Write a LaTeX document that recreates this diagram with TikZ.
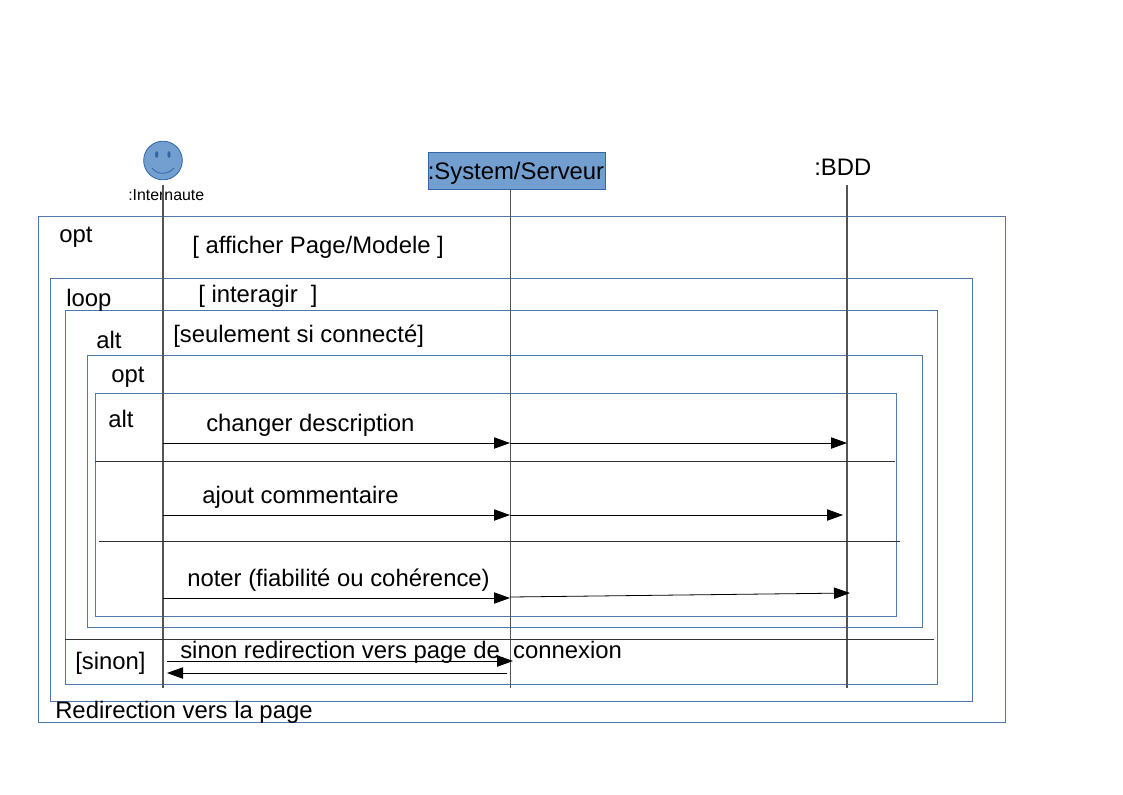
\documentclass[tikz,border=0pt]{standalone}
\usepackage{fontspec}
\setmainfont{Liberation Sans}
\usetikzlibrary{arrows.meta}
\definecolor{framecol}{HTML}{4F78A8}
\definecolor{headcol}{HTML}{729FCF}
\definecolor{headline}{HTML}{3465A4}
\definecolor{lifecol}{HTML}{555555}
\begin{document}
\begin{tikzpicture}[x=0.75pt, y=-0.75pt]
        % Define block styles
        \tikzstyle{frame} = [draw=framecol, line width=0.7pt]
        \tikzstyle{label} = [anchor=base west, inner sep=0pt, font=\fontsize{17.9}{20}\selectfont]
        \tikzstyle{lifeline} = [draw=lifecol, line width=0.9pt]
        \tikzstyle{split} = [draw=black!80, line width=0.7pt]
        \tikzstyle{line} = [draw, line width=0.6pt, -{Triangle[length=12pt, width=8.5pt]}]
        \useasboundingbox (0,0) rectangle (1123,794);

        % Nested frames
        \draw [frame] (38,216) rectangle (1005,722);
        \draw [frame] (50,278) rectangle (972,701);
        \draw [frame] (65,310) rectangle (937,684);
        \draw [frame] (87,355) rectangle (922,627);
        \draw [frame] (95,393) rectangle (896,616);

        % Place nodes
        \node [circle, draw=headline, fill=headcol, line width=0.6pt, minimum size=29pt, inner sep=0pt] (internaute) at (163,160.5) {};
        \node [label, font=\fontsize{11.9}{13}\selectfont] (internautelabel) at (128,200) {:Internaute};
        \node [draw=headline, fill=headcol, line width=0.5pt, minimum width=132.5pt, minimum height=28pt, inner sep=0pt] (serveur) at (516.5,170.5) {};
        \node [label] (serveurlabel) at (427.5,179) {:System/Serveur};
        \node [label] (bdd) at (814,175) {:BDD};

        \fill [headline] (156.7,154.5) ellipse (1.6 and 3.4);
        \fill [headline] (169,154.5) ellipse (1.6 and 3.4);
        \draw [headline, line width=0.6pt] (152,168) .. controls (157,175) and (168,175) .. (174,168);

        \node [label] (opt1) at (59,242) {opt};
        \node [label] (guard1) at (192,253) {[ afficher Page/Modele ]};
        \node [label] (loop) at (66,306) {loop};
        \node [label] (guard2) at (198,302) {[ interagir\ \ ]};
        \node [label] (alt1) at (96,348) {alt};
        \node [label] (guard3) at (173,342) {[seulement si connecté]};
        \node [label] (opt2) at (111,382) {opt};
        \node [label] (alt2) at (108,427) {alt};
        \node [label] (msg1) at (206,431) {changer description};
        \node [label] (msg2) at (202,503) {ajout commentaire};
        \node [label] (msg3) at (187,586) {noter (fiabilité ou cohérence)};
        \node [label] (sinon) at (75,669) {[sinon]};
        \node [label] (msg4) at (180,658) {sinon redirection vers page de\ \ connexion};
        \node [label] (retour) at (55,718) {Redirection vers la page};

        % Lifelines
        \coordinate (internauteend) at (163,688);
        \coordinate (internautetop) at (163,185);
        \coordinate (serveurend) at (510.5,688);
        \coordinate (serveurtop) at (510.5,189);
        \coordinate (bddtop) at (847,185);
        \coordinate (bddend) at (847,688);
        \draw [lifeline] (internautetop) -- (internauteend);
        \draw [lifeline] (serveurtop) -- (serveurend);
        \draw [lifeline] (bddtop) -- (bddend);

        % Separators
        \coordinate (sepa1) at (95,461);
        \coordinate (sepa2) at (895,461);
        \coordinate (sepb1) at (99,541);
        \coordinate (sepb2) at (900,541);
        \coordinate (sepc1) at (65,639);
        \coordinate (sepc2) at (934,639);
        \draw [split] (sepa1) -- (sepa2);
        \draw [split] (sepb1) -- (sepb2);
        \draw [split] (sepc1) -- (sepc2);

        % Messages
        \coordinate (ua) at (163,443);
        \coordinate (sa) at (510,443);
        \coordinate (ba) at (847,443);
        \coordinate (ub) at (163,515);
        \coordinate (sb) at (510,515);
        \coordinate (bb) at (843,515);
        \coordinate (uc) at (163,598);
        \coordinate (sc) at (510,598);
        \coordinate (sd) at (510,597);
        \coordinate (bc) at (850,593);
        \coordinate (ue) at (167,661);
        \coordinate (se) at (513,661);
        \coordinate (sf) at (507,673);
        \coordinate (uf) at (167,673);
        \draw [line] (ua) -- (sa);
        \draw [line] (sa) -- (ba);
        \draw [line] (ub) -- (sb);
        \draw [line] (sb) -- (bb);
        \draw [line] (uc) -- (sc);
        \draw [line] (sd) -- (bc);
        \draw [line] (ue) -- (se);
        \draw [line] (sf) -- (uf);
    \end{tikzpicture}
\end{document}
